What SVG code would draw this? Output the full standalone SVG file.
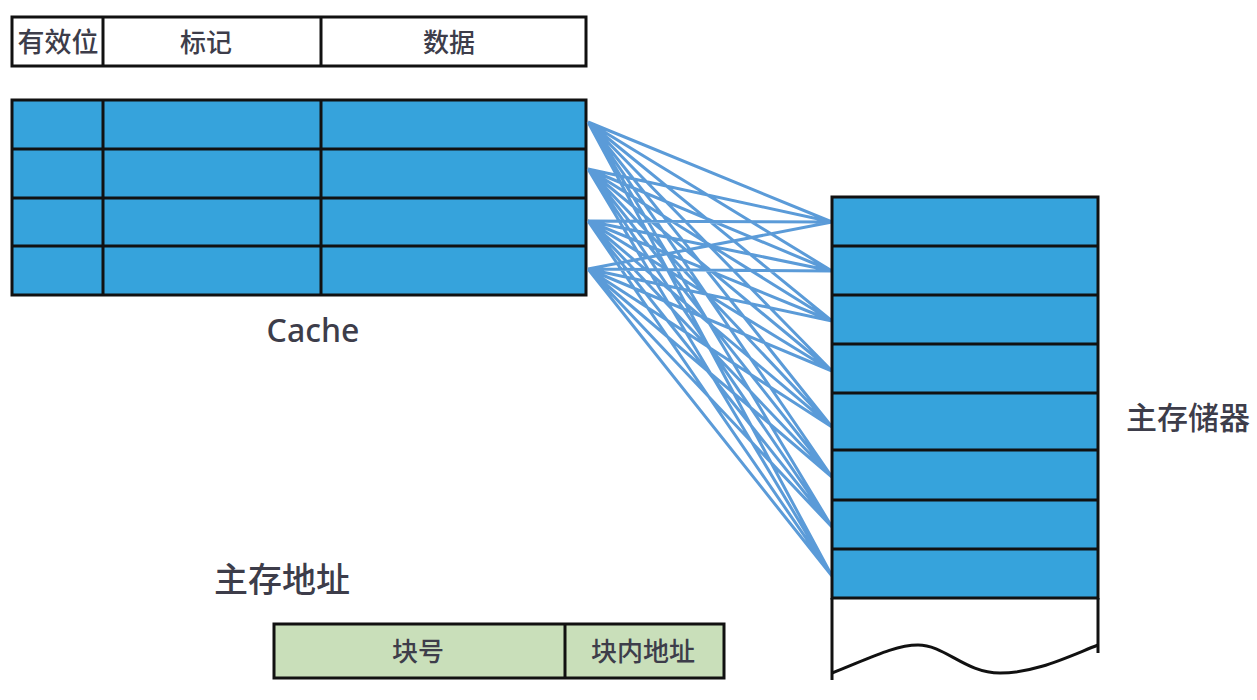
<svg xmlns="http://www.w3.org/2000/svg" width="1257" height="700" viewBox="0 0 1257 700">
<style>
.cell{stroke:#111;stroke-width:3}
.blue{fill:#36a3dc}
.white{fill:#fff}
.green{fill:#c9dfba}
.t{font-family:"Noto Sans CJK SC","Noto Sans",sans-serif;fill:#3d3d4a;text-anchor:middle;font-weight:500}
.c{stroke:#5b9bd8;stroke-width:3;fill:none}
</style>
<rect width="1257" height="700" fill="#fff"/>
<g id="header">
<rect class="cell white" x="12" y="17" width="574" height="49"/>
<line class="cell" x1="103" y1="17" x2="103" y2="66"/>
<line class="cell" x1="321" y1="17" x2="321" y2="66"/>
<text class="t" x="58" y="52" font-size="27">有效位</text>
<text class="t" x="206" y="52" font-size="26">标记</text>
<text class="t" x="449" y="52" font-size="26">数据</text>
</g>
<g id="cache">
<rect class="cell blue" x="12" y="100" width="574" height="195"/>
<line class="cell" x1="12" y1="149" x2="586" y2="149"/>
<line class="cell" x1="12" y1="198" x2="586" y2="198"/>
<line class="cell" x1="12" y1="246" x2="586" y2="246"/>
<line class="cell" x1="103" y1="100" x2="103" y2="295"/>
<line class="cell" x1="321" y1="100" x2="321" y2="295"/>
<text class="t" x="313" y="342" font-size="32" style="font-family:'Noto Sans',sans-serif">Cache</text>
</g>
<g id="connectors">
<path class="c" d="M588 122L832 222M588 122L832 271M588 122L832 321M588 122L832 371M588 122L832 427M588 122L832 477M588 122L832 527M588 122L832 576
M588 169L832 222M588 169L832 271M588 169L832 321M588 169L832 371M588 169L832 427M588 169L832 477M588 169L832 527M588 169L832 576
M588 221L832 222M588 221L832 271M588 221L832 321M588 221L832 371M588 221L832 427M588 221L832 477M588 221L832 527M588 221L832 576
M588 269L832 222M588 269L832 271M588 269L832 321M588 269L832 371M588 269L832 427M588 269L832 477M588 269L832 527M588 269L832 576"/>
</g>
<g id="memory">
<rect class="cell blue" x="832" y="197" width="266" height="401"/>
<line class="cell" x1="832" y1="246" x2="1098" y2="246"/>
<line class="cell" x1="832" y1="295" x2="1098" y2="295"/>
<line class="cell" x1="832" y1="344" x2="1098" y2="344"/>
<line class="cell" x1="832" y1="393" x2="1098" y2="393"/>
<line class="cell" x1="832" y1="450" x2="1098" y2="450"/>
<line class="cell" x1="832" y1="500" x2="1098" y2="500"/>
<line class="cell" x1="832" y1="549" x2="1098" y2="549"/>
<line class="cell" x1="832" y1="598" x2="832" y2="680"/>
<line class="cell" x1="1098" y1="598" x2="1098" y2="653"/>
<path class="cell" fill="none" d="M832 673C870 658 895 645 918 645C945 645 965 673 1000 673C1035 673 1065 658 1098 645"/>
<text class="t" x="1188" y="429" font-size="31">主存储器</text>
</g>
<g id="address">
<text class="t" x="282" y="592" font-size="34">主存地址</text>
<rect class="cell green" x="274" y="624" width="450" height="54"/>
<line class="cell" x1="565" y1="624" x2="565" y2="678"/>
<text class="t" x="418" y="661" font-size="26">块号</text>
<text class="t" x="643" y="661" font-size="26">块内地址</text>
</g>
</svg>
